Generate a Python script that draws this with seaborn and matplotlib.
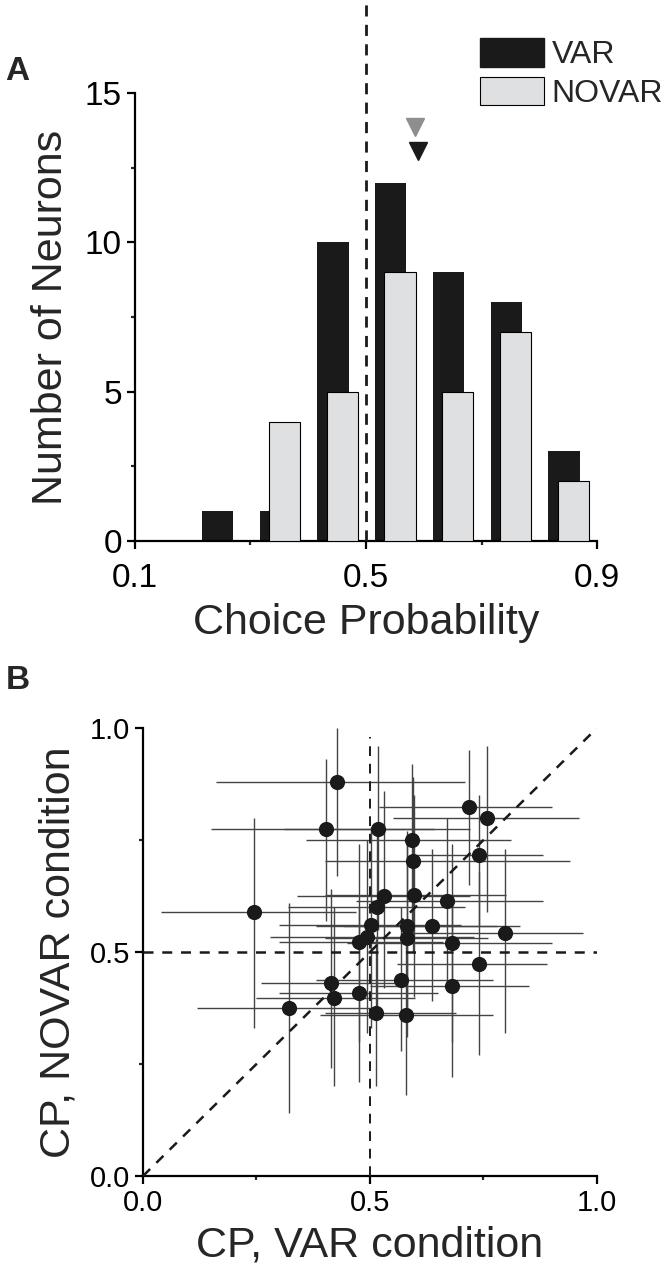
import numpy as np
import matplotlib
matplotlib.use("Agg")
import matplotlib.pyplot as plt
from matplotlib.patches import Patch
import seaborn as sns

# ---- panel A: choice probability histogram ----
bin_lo = [0.2, 0.3, 0.4, 0.5, 0.6, 0.7, 0.8]
var_counts = [1, 1, 10, 12, 9, 8, 3]
novar_counts = [0, 4, 5, 9, 5, 7, 2]
var_median = 0.590
novar_median = 0.585

# ---- panel B: CP per neuron with confidence intervals ----
cp_var = [0.427, 0.402, 0.518, 0.244, 0.719, 0.757, 0.593, 0.595, 0.741, 0.530,
          0.515, 0.597, 0.670, 0.502, 0.581, 0.636, 0.494, 0.476, 0.581, 0.681,
          0.797, 0.741, 0.568, 0.680, 0.513, 0.579, 0.414, 0.421, 0.475, 0.322]
cp_novar = [0.880, 0.774, 0.775, 0.589, 0.824, 0.799, 0.750, 0.704, 0.717, 0.625,
            0.601, 0.627, 0.613, 0.560, 0.559, 0.559, 0.533, 0.523, 0.532, 0.520,
            0.543, 0.473, 0.437, 0.424, 0.363, 0.359, 0.430, 0.397, 0.409, 0.374]
var_lo = [0.16, 0.15, 0.31, 0.04, 0.52, 0.55, 0.36, 0.40, 0.60, 0.34,
          0.32, 0.40, 0.47, 0.30, 0.38, 0.44, 0.28, 0.30, 0.40, 0.45,
          0.58, 0.56, 0.38, 0.50, 0.40, 0.39, 0.26, 0.25, 0.30, 0.12]
var_hi = [0.71, 0.64, 0.72, 0.47, 0.90, 0.96, 0.81, 0.94, 0.88, 0.72,
          0.71, 0.80, 0.88, 0.70, 0.78, 0.83, 0.73, 0.66, 0.76, 0.90,
          0.97, 0.89, 0.77, 0.85, 0.69, 0.77, 0.57, 0.60, 0.65, 0.52]
novar_lo = [0.67, 0.57, 0.55, 0.33, 0.65, 0.59, 0.52, 0.50, 0.56, 0.42,
            0.38, 0.40, 0.43, 0.33, 0.35, 0.39, 0.32, 0.30, 0.31, 0.30,
            0.32, 0.27, 0.28, 0.22, 0.20, 0.18, 0.24, 0.20, 0.21, 0.14]
novar_hi = [1.00, 0.93, 0.96, 0.80, 0.95, 0.96, 0.92, 0.89, 0.85, 0.86,
            0.79, 0.85, 0.80, 0.78, 0.77, 0.73, 0.75, 0.74, 0.76, 0.74,
            0.73, 0.68, 0.60, 0.63, 0.53, 0.54, 0.64, 0.60, 0.60, 0.61]

sns.set_style("ticks")
plt.rcParams["font.family"] = ["Liberation Sans", "DejaVu Sans"]

BLACK = "#1a1a1a"
LIGHT = "#dfe0e2"
TICK_FS = 24
LABEL_FS = 31

fig = plt.figure(figsize=(6.66, 12.8), dpi=100)
ax1 = fig.add_axes([0.2027, 0.5773, 0.6937, 0.35])
ax2 = fig.add_axes([0.2147, 0.08125, 0.6817, 0.35])


def style_axes(ax):
    for s in ["top", "right"]:
        ax.spines[s].set_visible(False)
    for s in ["left", "bottom"]:
        ax.spines[s].set_linewidth(1.6)
        ax.spines[s].set_color("black")
    ax.tick_params(which="major", direction="out", length=6, width=1.6,
                   labelsize=TICK_FS, colors="black")
    ax.tick_params(which="minor", direction="out", length=3, width=1.6)


# panel A
lo = np.array(bin_lo)
bw = 0.054
ax1.bar(lo + 0.043, var_counts, width=bw, color=BLACK, edgecolor=BLACK,
        linewidth=0, zorder=2)
ax1.bar(lo + 0.059, novar_counts, width=bw, color=LIGHT, edgecolor="black",
        linewidth=0.8, zorder=3)
ax1.axvline(0.5, ymin=0, ymax=1.207, color=BLACK, lw=2, ls=(0, (4, 3)),
            clip_on=False, zorder=4)
ax1.plot([novar_median], [13.87], marker="v", ms=13, color="#8e8e8e",
         clip_on=False, ls="none")
ax1.plot([var_median], [13.07], marker="v", ms=13, color=BLACK,
         clip_on=False, ls="none")
ax1.set_xlim(0.1, 0.9)
ax1.set_ylim(0, 15)
ax1.set_xticks([0.1, 0.5, 0.9])
ax1.set_xticks([0.3, 0.7], minor=True)
ax1.set_yticks([0, 5, 10, 15])
ax1.set_yticks([2.5, 7.5, 12.5], minor=True)
style_axes(ax1)
ax1.tick_params(axis="x", which="major", pad=10)
ax1.set_xlabel("Choice Probability", fontsize=LABEL_FS, labelpad=6)
ax1.set_ylabel("Number of Neurons", fontsize=LABEL_FS, labelpad=10)

handles = [Patch(facecolor=BLACK, edgecolor=BLACK, label="VAR"),
           Patch(facecolor=LIGHT, edgecolor="black", lw=0.8, label="NOVAR")]
fig.legend(handles=handles, loc="upper left", bbox_to_anchor=(0.7207, 0.9703),
           frameon=False, fontsize=23, handlelength=2.0, handleheight=1.0,
           handletextpad=0.25, labelspacing=0.2, borderpad=0, borderaxespad=0)

# panel B
xerr = [np.array(cp_var) - np.array(var_lo), np.array(var_hi) - np.array(cp_var)]
yerr = [np.array(cp_novar) - np.array(novar_lo), np.array(novar_hi) - np.array(cp_novar)]
ax2.errorbar(cp_var, cp_novar, xerr=xerr, yerr=yerr, fmt="none",
             ecolor="#444444", elinewidth=1.0, capsize=0, zorder=2)
sns.scatterplot(x=cp_var, y=cp_novar, ax=ax2, s=120, color=BLACK,
                edgecolor=BLACK, linewidth=0, zorder=3)
ax2.plot([0, 1], [0, 1], color=BLACK, lw=1.8, ls=(0, (4, 3.5)), zorder=4)
ax2.plot([0, 1], [0.5, 0.5], color=BLACK, lw=1.8, ls=(0, (4, 3.5)), zorder=4)
ax2.plot([0.5, 0.5], [0, 0.98], color=BLACK, lw=1.4, ls=(0, (5, 4)), zorder=4)
ax2.set_xlim(0, 1)
ax2.set_ylim(0, 1)
ax2.set_xticks([0, 0.5, 1.0])
ax2.set_xticks([0.25, 0.75], minor=True)
ax2.set_yticks([0, 0.5, 1.0])
ax2.set_yticks([0.25, 0.75], minor=True)
ax2.set_xticklabels(["0.0", "0.5", "1.0"])
ax2.set_yticklabels(["0.0", "0.5", "1.0"])
style_axes(ax2)
ax2.tick_params(labelsize=21)
ax2.set_xlabel("CP, VAR condition", fontsize=LABEL_FS, labelpad=6)
ax2.set_ylabel("CP, NOVAR condition", fontsize=LABEL_FS, labelpad=8)

fig.text(0.008, 0.944, "A", fontsize=24, fontweight="bold", va="center")
fig.text(0.008, 0.468, "B", fontsize=24, fontweight="bold", va="center")

fig.savefig("out.png", dpi=100)
